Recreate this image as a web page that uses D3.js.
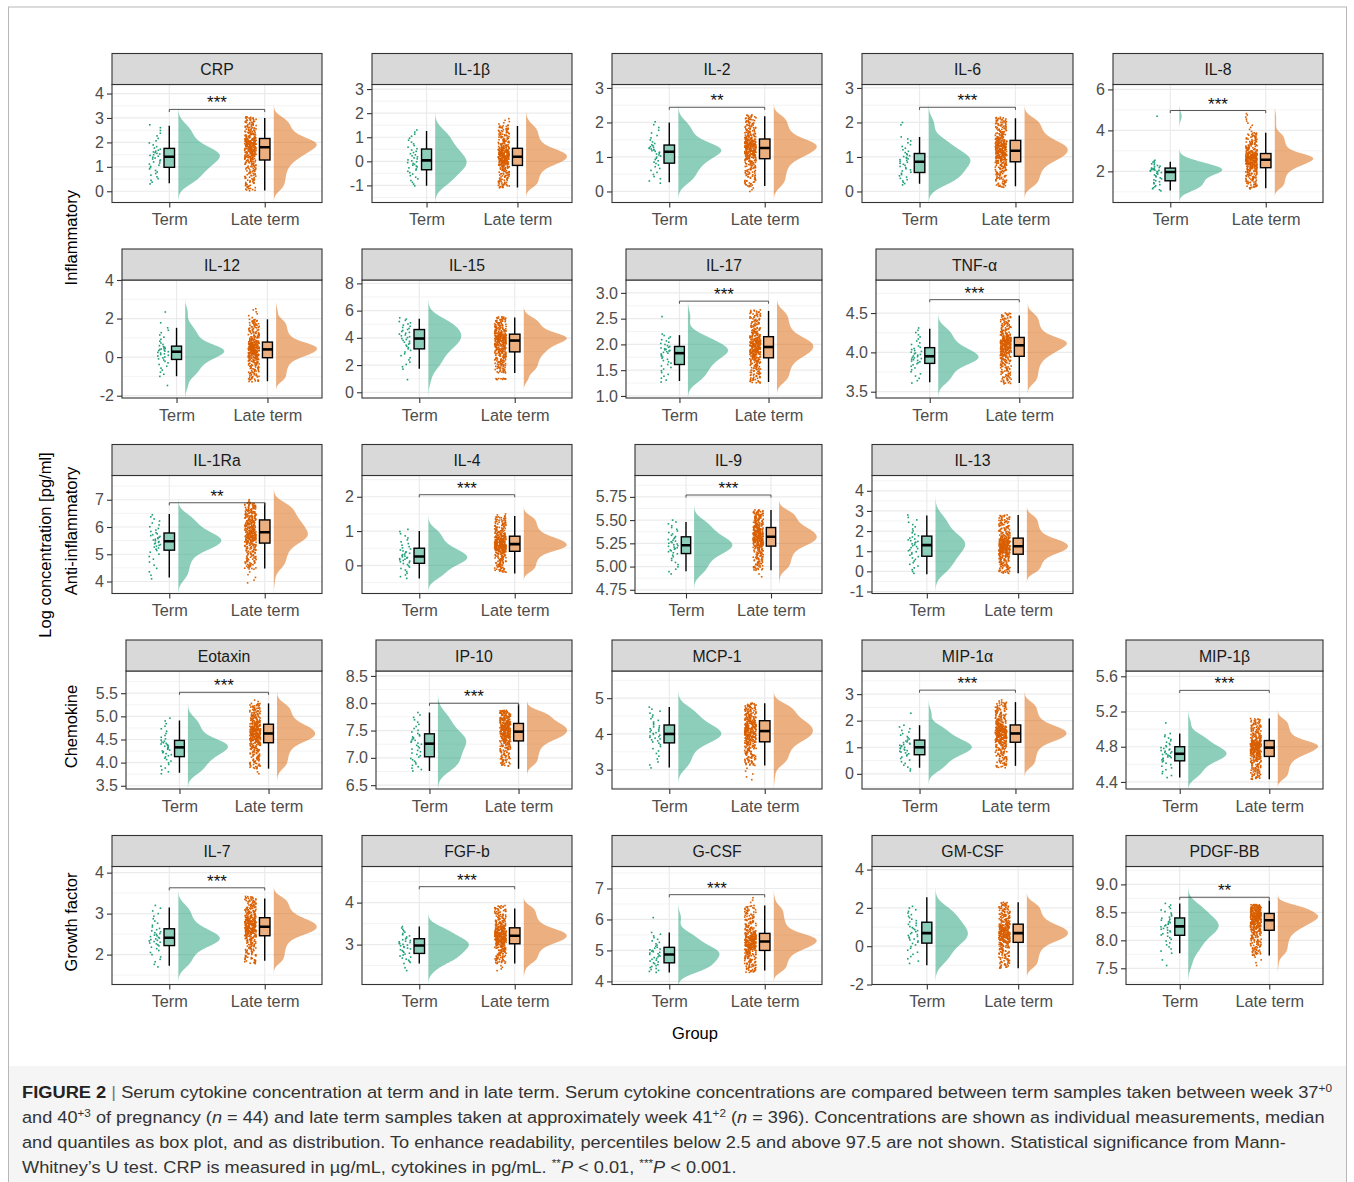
<!DOCTYPE html>
<html>
<head>
<meta charset="utf-8">
<title>Serum cytokine concentration at term and in late term</title>
<script src="https://cdn.jsdelivr.net/npm/d3@7/dist/d3.min.js"></script>
<style>
  html, body { margin: 0; padding: 0; background: #fff; }
  svg text { font-family: "Liberation Sans", Arial, Helvetica, sans-serif; }
</style>
</head>
<body>
<svg id="fig" width="1354" height="1182"></svg>
<script>
// ---------------- data ----------------
const groups = ["Term", "Late term"];
// measurements drawn per group (2.5–97.5 percentile range of n = 44 and n = 396)
const pointCounts = [42, 376];

const panelRows = [
  ["CRP", "IL-1β", "IL-2", "IL-6", "IL-8"],
  ["IL-12", "IL-15", "IL-17", "TNF-α"],
  ["IL-1Ra", "IL-4", "IL-9", "IL-13"],
  ["Eotaxin", "IP-10", "MCP-1", "MIP-1α", "MIP-1β"],
  ["IL-7", "FGF-b", "G-CSF", "GM-CSF", "PDGF-BB"]
];

const familyTitles = [
  { text: "Inflammatory", rows: [0, 1] },
  { text: "Anti-inflammatory", rows: [2] },
  { text: "Chemokine", rows: [3] },
  { text: "Growth factor", rows: [4] }
];

// y-axis tick labels (log concentration)
const yTickLabels = {
  "CRP": ["0", "1", "2", "3", "4"],
  "IL-1β": ["-1", "0", "1", "2", "3"],
  "IL-2": ["0", "1", "2", "3"],
  "IL-6": ["0", "1", "2", "3"],
  "IL-8": ["2", "4", "6"],
  "IL-12": ["-2", "0", "2", "4"],
  "IL-15": ["0", "2", "4", "6", "8"],
  "IL-17": ["1.0", "1.5", "2.0", "2.5", "3.0"],
  "TNF-α": ["3.5", "4.0", "4.5"],
  "IL-1Ra": ["4", "5", "6", "7"],
  "IL-4": ["0", "1", "2"],
  "IL-9": ["4.75", "5.00", "5.25", "5.50", "5.75"],
  "IL-13": ["-1", "0", "1", "2", "3", "4"],
  "Eotaxin": ["3.5", "4.0", "4.5", "5.0", "5.5"],
  "IP-10": ["6.5", "7.0", "7.5", "8.0", "8.5"],
  "MCP-1": ["3", "4", "5"],
  "MIP-1α": ["0", "1", "2", "3"],
  "MIP-1β": ["4.4", "4.8", "5.2", "5.6"],
  "IL-7": ["2", "3", "4"],
  "FGF-b": ["3", "4"],
  "G-CSF": ["4", "5", "6", "7"],
  "GM-CSF": ["-2", "0", "2", "4"],
  "PDGF-BB": ["7.5", "8.0", "8.5", "9.0"]
};

// y-axis limits per panel
const yLimits = {
  "CRP": [-0.46, 4.37], "IL-1β": [-1.71, 3.19], "IL-2": [-0.32, 3.1], "IL-6": [-0.32, 3.1],
  "IL-8": [0.48, 6.24], "IL-12": [-2.12, 4.0], "IL-15": [-0.42, 8.25], "IL-17": [0.96, 3.25],
  "TNF-α": [3.42, 4.92], "IL-1Ra": [3.56, 7.89], "IL-4": [-0.82, 2.62], "IL-9": [4.71, 5.98],
  "IL-13": [-1.1, 4.76], "Eotaxin": [3.43, 5.98], "IP-10": [6.43, 8.59], "MCP-1": [2.46, 5.76],
  "MIP-1α": [-0.57, 3.87], "MIP-1β": [4.32, 5.66], "IL-7": [1.27, 4.15], "FGF-b": [2.05, 4.86],
  "G-CSF": [3.9, 7.71], "GM-CSF": [-2.0, 4.16], "PDGF-BB": [7.21, 9.32]
};

// box plot statistics: [lower whisker, Q1, median, Q3, upper whisker]
const termBox = {
  "CRP": [0.33, 0.98, 1.415, 1.755, 2.68], "IL-1β": [-1.01, -0.35, 0.04, 0.51, 1.26],
  "IL-2": [0.27, 0.82, 1.15, 1.345, 2.0], "IL-6": [0.22, 0.55, 0.86, 1.10, 1.58],
  "IL-8": [1.07, 1.54, 1.97, 2.16, 2.47], "IL-12": [-0.99, -0.12, 0.28, 0.57, 1.52],
  "IL-15": [1.72, 3.19, 3.95, 4.61, 5.4], "IL-17": [1.29, 1.61, 1.83, 1.96, 2.18],
  "TNF-α": [3.62, 3.86, 3.95, 4.06, 4.3], "IL-1Ra": [4.15, 5.15, 5.48, 5.78, 6.48],
  "IL-4": [-0.38, 0.06, 0.26, 0.5, 1.0], "IL-9": [4.95, 5.14, 5.23, 5.32, 5.48],
  "IL-13": [-0.15, 0.75, 1.3, 1.75, 2.77], "Eotaxin": [3.78, 4.13, 4.33, 4.48, 4.91],
  "IP-10": [6.76, 7.02, 7.26, 7.44, 7.83], "MCP-1": [3.06, 3.75, 4.0, 4.25, 4.75],
  "MIP-1α": [0.23, 0.72, 1.0, 1.27, 1.83], "MIP-1β": [4.45, 4.64, 4.72, 4.8, 4.95],
  "IL-7": [1.73, 2.22, 2.41, 2.63, 3.15], "FGF-b": [2.55, 2.79, 2.98, 3.14, 3.43],
  "G-CSF": [4.29, 4.6, 4.87, 5.1, 5.58], "GM-CSF": [-0.99, 0.16, 0.68, 1.25, 2.55],
  "PDGF-BB": [7.77, 8.09, 8.25, 8.4, 8.66]
};
const lateBox = {
  "CRP": [0.03, 1.28, 1.8, 2.16, 3.0], "IL-1β": [-1.09, -0.17, 0.19, 0.54, 1.47],
  "IL-2": [0.16, 0.95, 1.26, 1.52, 2.18], "IL-6": [0.15, 0.86, 1.18, 1.48, 2.12],
  "IL-8": [1.18, 2.18, 2.57, 2.87, 3.88], "IL-12": [-1.25, -0.03, 0.4, 0.78, 1.96],
  "IL-15": [1.42, 2.97, 3.8, 4.27, 5.5], "IL-17": [1.27, 1.74, 1.95, 2.15, 2.65],
  "TNF-α": [3.61, 3.95, 4.09, 4.19, 4.47], "IL-1Ra": [4.48, 5.41, 5.81, 6.26, 6.89],
  "IL-4": [-0.24, 0.41, 0.62, 0.85, 1.44], "IL-9": [4.96, 5.22, 5.32, 5.42, 5.61],
  "IL-13": [-0.1, 0.85, 1.25, 1.65, 2.8], "Eotaxin": [3.87, 4.43, 4.63, 4.83, 5.28],
  "IP-10": [6.8, 7.31, 7.48, 7.63, 7.98], "MCP-1": [3.12, 3.78, 4.08, 4.37, 4.86],
  "MIP-1α": [0.3, 1.19, 1.52, 1.84, 2.7], "MIP-1β": [4.43, 4.69, 4.79, 4.87, 5.12],
  "IL-7": [1.85, 2.46, 2.68, 2.9, 3.37], "FGF-b": [2.55, 3.02, 3.21, 3.4, 3.86],
  "G-CSF": [4.35, 5.0, 5.29, 5.55, 6.45], "GM-CSF": [-1.15, 0.2, 0.68, 1.15, 2.29],
  "PDGF-BB": [7.73, 8.18, 8.36, 8.48, 8.71]
};

// extent of the main cloud of individual measurements: [lowest, highest]
const termRange = {
  "CRP": [0.3, 2.72], "IL-1β": [-1.02, 1.3], "IL-2": [0.24, 2.02], "IL-6": [0.19, 1.58],
  "IL-8": [1.05, 2.54], "IL-12": [-1.0, 1.52], "IL-15": [1.7, 5.47], "IL-17": [1.27, 2.2],
  "TNF-α": [3.61, 4.31], "IL-1Ra": [4.1, 6.45], "IL-4": [-0.38, 1.05], "IL-9": [4.92, 5.5],
  "IL-13": [-0.1, 2.8], "Eotaxin": [3.76, 4.96], "IP-10": [6.76, 7.83], "MCP-1": [3.05, 4.75],
  "MIP-1α": [0.11, 1.83], "MIP-1β": [4.45, 4.95], "IL-7": [1.7, 3.2], "FGF-b": [2.55, 3.43],
  "G-CSF": [4.29, 5.58], "GM-CSF": [-0.9, 2.08], "PDGF-BB": [7.77, 8.66]
};
const lateRange = {
  "CRP": [0.02, 3.05], "IL-1β": [-1.1, 1.5], "IL-2": [0.14, 2.22], "IL-6": [0.12, 2.15],
  "IL-8": [1.15, 3.88], "IL-12": [-1.28, 1.96], "IL-15": [1.42, 5.55], "IL-17": [1.25, 2.67],
  "TNF-α": [3.6, 4.5], "IL-1Ra": [4.45, 6.9], "IL-4": [-0.2, 1.44], "IL-9": [4.96, 5.61],
  "IL-13": [-0.1, 2.8], "Eotaxin": [3.87, 5.28], "IP-10": [6.85, 7.87], "MCP-1": [3.12, 4.86],
  "MIP-1α": [0.23, 2.7], "MIP-1β": [4.43, 5.12], "IL-7": [1.78, 3.42], "FGF-b": [2.55, 3.93],
  "G-CSF": [4.29, 6.45], "GM-CSF": [-1.15, 2.29], "PDGF-BB": [7.73, 8.64]
};

// measurements lying apart from the main cloud
const termOutliers = {
  "IL-6": [1.93, 2.0], "IL-8": [4.69], "IL-12": [1.78, 2.34, -1.47], "IL-15": [0.93],
  "IL-17": [2.54], "MIP-1α": [2.28], "MIP-1β": [5.07], "FGF-b": [2.38, 2.45],
  "G-CSF": [6.06], "PDGF-BB": [7.55, 7.65]
};
const lateOutliers = {
  "IL-1β": [1.55, 1.6, 1.65, 1.7, 1.77], "IL-2": [0.0, 0.05, 0.1],
  "IL-8": [3.95, 4.05, 4.15, 4.25, 4.35, 4.45, 4.55, 4.65, 4.75, 4.82],
  "IL-12": [2.05, 2.15, 2.25, 2.35, 2.45, 2.51],
  "IL-15": [0.93, 0.95, 0.96, 0.97, 0.98, 0.99, 1.0, 1.0, 1.01, 1.02],
  "IL-1Ra": [3.95, 4.05, 4.15, 4.25, 4.35, 6.95, 7.0], "IL-4": [1.47, 1.5],
  "IL-9": [4.89, 4.92], "Eotaxin": [3.76, 3.8, 5.32, 5.35],
  "MCP-1": [2.72, 2.8, 2.88, 2.96, 3.04], "MIP-1α": [2.74, 2.78],
  "FGF-b": [2.38, 2.42, 2.46, 2.5], "G-CSF": [6.55, 6.62, 6.7],
  "PDGF-BB": [7.55, 7.6, 7.65, 7.7]
};

// Mann–Whitney significance: [label, bracket height]
const significance = {
  "CRP": ["***", 3.35], "IL-2": ["**", 2.44], "IL-6": ["***", 2.44], "IL-8": ["***", 4.97],
  "IL-17": ["***", 2.84], "TNF-α": ["***", 4.67], "IL-1Ra": ["**", 6.89], "IL-4": ["***", 2.06],
  "IL-9": ["***", 5.77], "Eotaxin": ["***", 5.52], "IP-10": ["***", 8.0], "MIP-1α": ["***", 3.15],
  "MIP-1β": ["***", 5.44], "IL-7": ["***", 3.63], "FGF-b": ["***", 4.38], "G-CSF": ["***", 6.8],
  "PDGF-BB": ["**", 8.77]
};

// ---------------- layout & style ----------------
const layout = {
  stripTop: [53.5, 249, 444.5, 640, 835.5],
  stripH: 31,
  panelH: 118,
  right: [322, 572, 822, 1073, 1323],
  left: [
    [112, 372, 612, 862, 1113],
    [122, 362, 626, 876],
    [112, 362, 635, 872],
    [126, 376, 612, 862, 1126],
    [112, 362, 612, 872, 1126]
  ]
};
const fillColors = ["#1b9e77", "#d95f02"];
const xDomain = [0.4, 2.6];
const boxHalf = 0.055, violinGap = 0.095, violinMax = 0.45, dotShift = -0.15, dotSpread = 0.06;

const svg = d3.select("#fig");

// figure frame and caption band
svg.append("rect").attr("x", 0).attr("y", 0).attr("width", 1354).attr("height", 1182).attr("fill", "#fff");
svg.append("rect").attr("x", 8.5).attr("y", 1066).attr("width", 1338).attr("height", 130).attr("fill", "#f5f5f5");
svg.append("rect").attr("x", 8.5).attr("y", 7).attr("width", 1338).attr("height", 1200)
  .attr("fill", "none").attr("stroke", "#b8b8b8").attr("stroke-width", 1);

// monotone cubic (Fritsch–Carlson) through the quantile knots
function monotoneQuantile(ps, vs) {
  const n = ps.length, d = [], m = [];
  for (let i = 0; i < n - 1; i++) d.push((vs[i + 1] - vs[i]) / (ps[i + 1] - ps[i]));
  for (let i = 1; i < n - 1; i++) m[i] = d[i - 1] * d[i] <= 0 ? 0 : 2 / (1 / d[i - 1] + 1 / d[i]);
  m[0] = Math.max(d[0], (3 * d[0] - m[1]) / 2);
  m[n - 1] = Math.max(d[n - 2], (3 * d[n - 2] - m[n - 2]) / 2);
  return p => {
    let i = Math.min(n - 2, Math.max(0, d3.bisectRight(ps, p) - 1));
    const h = ps[i + 1] - ps[i], t = (p - ps[i]) / h;
    const t2 = t * t, t3 = t2 * t;
    return (2 * t3 - 3 * t2 + 1) * vs[i] + (t3 - 2 * t2 + t) * h * m[i]
      + (-2 * t3 + 3 * t2) * vs[i + 1] + (t3 - t2) * h * m[i + 1];
  };
}

// individual measurements spread along the quantile curve of each group
function measurements(range, box, out, n) {
  const q = monotoneQuantile([0, 0.25, 0.5, 0.75, 1], [range[0], box[1], box[2], box[3], range[1]]);
  const m = n - out.length;
  return d3.range(m).map(k => q(k / (m - 1))).concat(out);
}

// horizontal jitter offset in [-1, 1] from an integer hash
function jitter(k, salt) {
  let h = Math.imul(k + 1, 0x9e3779b1) ^ Math.imul(salt + 7, 0x85ebca6b);
  h ^= h >>> 15; h = Math.imul(h, 0x2c1b3c6d);
  h ^= h >>> 12; h = Math.imul(h, 0x297a2d39);
  h ^= h >>> 15;
  return ((h >>> 0) / 4294967296) * 2 - 1;
}

// gaussian kernel density with Silverman's bandwidth, extended 3 bandwidths past the data
function density(vals) {
  const n = vals.length;
  const sorted = vals.slice().sort(d3.ascending);
  const sd = d3.deviation(sorted);
  const iqr = d3.quantileSorted(sorted, 0.75) - d3.quantileSorted(sorted, 0.25);
  const bw = 0.9 * Math.min(sd, iqr / 1.34) * Math.pow(n, -0.2);
  const a = sorted[0] - 3 * bw, b = sorted[n - 1] + 3 * bw;
  const c = 1 / (n * bw * Math.sqrt(2 * Math.PI));
  return d3.range(0, 257).map(i => {
    const v = a + (b - a) * i / 256;
    return [v, c * d3.sum(sorted, s => Math.exp(-0.5 * ((v - s) / bw) ** 2))];
  });
}

let panelIndex = 0;
panelRows.forEach((row, r) => {
  row.forEach((marker, c) => {
    panelIndex++;
    const x0 = layout.left[r][c], x1 = layout.right[c];
    const sTop = layout.stripTop[r], pTop = sTop + layout.stripH, pBot = pTop + layout.panelH;
    const x = d3.scaleLinear(xDomain, [x0, x1]);
    const y = d3.scaleLinear(yLimits[marker], [pBot, pTop]);
    const g = svg.append("g").attr("class", "panel");
    const clipId = "clip-" + r + "-" + c;
    g.append("clipPath").attr("id", clipId).append("rect")
      .attr("x", x0).attr("y", pTop).attr("width", x1 - x0).attr("height", pBot - pTop);

    // grid
    const labels = yTickLabels[marker];
    const ticks = labels.map(Number);
    const step = ticks[1] - ticks[0];
    const dom = yLimits[marker];
    const minors = d3.range(-1, ticks.length).map(i => ticks[0] + (i + 0.5) * step)
      .filter(v => v > dom[0] && v < dom[1]);
    const grid = g.append("g").attr("clip-path", `url(#${clipId})`);
    grid.selectAll("line.minor").data(minors).join("line").attr("class", "minor")
      .attr("x1", x0).attr("x2", x1).attr("y1", d => y(d)).attr("y2", d => y(d))
      .attr("stroke", "#ebebeb").attr("stroke-width", 0.6);
    grid.selectAll("line.major").data(ticks).join("line").attr("class", "major")
      .attr("x1", x0).attr("x2", x1).attr("y1", d => y(d)).attr("y2", d => y(d))
      .attr("stroke", "#ebebeb").attr("stroke-width", 1.2);
    grid.selectAll("line.vmajor").data([1, 2]).join("line").attr("class", "vmajor")
      .attr("x1", d => x(d)).attr("x2", d => x(d)).attr("y1", pTop).attr("y2", pBot)
      .attr("stroke", "#ebebeb").attr("stroke-width", 1.2);

    // measurements per group
    const sets = [
      measurements(termRange[marker], termBox[marker], termOutliers[marker] || [], pointCounts[0]),
      measurements(lateRange[marker], lateBox[marker], lateOutliers[marker] || [], pointCounts[1])
    ];
    const dens = sets.map(density);
    const maxD = d3.max(dens, d => d3.max(d, p => p[1]));

    const marks = g.append("g").attr("clip-path", `url(#${clipId})`);
    // half violins
    dens.forEach((d, i) => {
      const base = i + 1 + violinGap;
      const area = d3.area()
        .y(p => y(p[0]))
        .x0(() => x(base))
        .x1(p => x(base + violinMax * p[1] / maxD))
        .curve(d3.curveBasis);
      marks.append("path").attr("d", area(d))
        .attr("fill", fillColors[i]).attr("fill-opacity", 0.5).attr("stroke", "none");
    });
    // jittered measurements
    sets.forEach((vals, i) => {
      marks.append("g").selectAll("rect").data(vals).join("rect")
        .attr("x", (v, k) => x(i + 1 + dotShift + dotSpread * jitter(k, panelIndex * 2 + i)) - 0.8)
        .attr("y", v => y(v) - 0.8)
        .attr("width", 1.6).attr("height", 1.6)
        .attr("fill", fillColors[i]);
    });
    // box plots
    [termBox[marker], lateBox[marker]].forEach((b, i) => {
      const cx = i + 1;
      const bg = marks.append("g");
      bg.append("line").attr("x1", x(cx)).attr("x2", x(cx)).attr("y1", y(b[4])).attr("y2", y(b[3]))
        .attr("stroke", "#000").attr("stroke-width", 1.4);
      bg.append("line").attr("x1", x(cx)).attr("x2", x(cx)).attr("y1", y(b[1])).attr("y2", y(b[0]))
        .attr("stroke", "#000").attr("stroke-width", 1.4);
      bg.append("rect").attr("x", x(cx - boxHalf)).attr("width", x(cx + boxHalf) - x(cx - boxHalf))
        .attr("y", y(b[3])).attr("height", y(b[1]) - y(b[3]))
        .attr("fill", "#fff").attr("stroke", "none");
      bg.append("rect").attr("x", x(cx - boxHalf)).attr("width", x(cx + boxHalf) - x(cx - boxHalf))
        .attr("y", y(b[3])).attr("height", y(b[1]) - y(b[3]))
        .attr("fill", fillColors[i]).attr("fill-opacity", 0.5)
        .attr("stroke", "#000").attr("stroke-width", 1.4);
      bg.append("line").attr("x1", x(cx - boxHalf)).attr("x2", x(cx + boxHalf))
        .attr("y1", y(b[2])).attr("y2", y(b[2]))
        .attr("stroke", "#000").attr("stroke-width", 2.6);
    });

    // significance bracket
    const sig = significance[marker];
    if (sig) {
      const by = y(sig[1]);
      g.append("path")
        .attr("d", `M${x(1)},${by + 2.6}V${by}H${x(2)}V${by + 2.6}`)
        .attr("fill", "none").attr("stroke", "#444").attr("stroke-width", 0.9);
      g.append("text").attr("x", (x(1) + x(2)) / 2).attr("y", by - 1)
        .attr("text-anchor", "middle").attr("font-size", 17).attr("fill", "#111")
        .text(sig[0]);
    }

    // panel border
    g.append("rect").attr("x", x0).attr("y", pTop).attr("width", x1 - x0).attr("height", pBot - pTop)
      .attr("fill", "none").attr("stroke", "#333").attr("stroke-width", 1.1);
    // strip
    g.append("rect").attr("x", x0).attr("y", sTop).attr("width", x1 - x0).attr("height", layout.stripH)
      .attr("fill", "#d9d9d9").attr("stroke", "#333").attr("stroke-width", 1.1);
    g.append("text").attr("x", (x0 + x1) / 2).attr("y", sTop + 21.5)
      .attr("text-anchor", "middle").attr("font-size", 15.8).attr("fill", "#1a1a1a").text(marker);

    // axes
    const yAxis = d3.axisLeft(y).tickValues(ticks).tickFormat((d, i) => labels[i]).tickSize(5).tickPadding(3);
    g.append("g").attr("transform", `translate(${x0},0)`).call(yAxis)
      .call(a => a.select(".domain").remove())
      .call(a => a.selectAll("line").attr("stroke", "#333").attr("stroke-width", 1.1))
      .call(a => a.selectAll("text").attr("fill", "#4d4d4d").attr("font-size", 16));
    const xAxis = d3.axisBottom(x).tickValues([1, 2]).tickFormat((d, i) => groups[i]).tickSize(5).tickPadding(6);
    g.append("g").attr("transform", `translate(0,${pBot})`).call(xAxis)
      .call(a => a.select(".domain").remove())
      .call(a => a.selectAll("line").attr("stroke", "#333").attr("stroke-width", 1.1))
      .call(a => a.selectAll("text").attr("fill", "#4d4d4d").attr("font-size", 16.3));
  });
});

// family titles beside each block of rows
familyTitles.forEach(f => {
  const top = layout.stripTop[f.rows[0]] + layout.stripH;
  const bot = layout.stripTop[f.rows[f.rows.length - 1]] + layout.stripH + layout.panelH;
  svg.append("text")
    .attr("transform", `translate(71,${(top + bot) / 2 - 3.5}) rotate(-90)`)
    .attr("text-anchor", "middle").attr("dy", "0.35em")
    .attr("font-size", 16.5).attr("fill", "#000").text(f.text);
});
svg.append("text")
  .attr("transform", "translate(45,545) rotate(-90)")
  .attr("text-anchor", "middle").attr("dy", "0.35em")
  .attr("font-size", 16.5).attr("fill", "#000").text("Log concentration [pg/ml]");
svg.append("text").attr("x", 695).attr("y", 1039).attr("text-anchor", "middle")
  .attr("font-size", 16.5).attr("fill", "#000").text("Group");

// caption
const captionLines = [
  [{ t: "FIGURE 2", b: 1 }, { t: " " }, { t: "|", bar: 1 }, { t: " Serum cytokine concentration at term and in late term. Serum cytokine concentrations are compared between term samples taken between week 37" }, { t: "+0", sup: 1 }],
  [{ t: "and 40" }, { t: "+3", sup: 1 }, { t: " of pregnancy (" }, { t: "n", i: 1 }, { t: " = 44) and late term samples taken at approximately week 41" }, { t: "+2", sup: 1 }, { t: " (" }, { t: "n", i: 1 }, { t: " = 396). Concentrations are shown as individual measurements, median" }],
  [{ t: "and quantiles as box plot, and as distribution. To enhance readability, percentiles below 2.5 and above 97.5 are not shown. Statistical significance from Mann-" }],
  [{ t: "Whitney’s U test. CRP is measured in µg/mL, cytokines in pg/mL. " }, { t: "**", sup: 1 }, { t: "P", i: 1 }, { t: " < 0.01, " }, { t: "***", sup: 1 }, { t: "P", i: 1 }, { t: " < 0.001." }]
];
const captionWidths = [1311, 1303, 1265, null];
const captionScale = [];
captionLines.forEach((parts, li) => {
  const cg = svg.append("g").attr("transform", `translate(22,${1098 + li * 25})`);
  const txt = cg.append("text").attr("x", 0).attr("y", 0).attr("font-size", 17).attr("fill", "#333");
  let raised = false;
  parts.forEach(p => {
    const ts = txt.append("tspan").text(p.t);
    if (p.b) ts.attr("font-weight", "bold").attr("fill", "#222");
    if (p.i) ts.attr("font-style", "italic");
    if (p.bar) ts.attr("fill", "#777").attr("font-weight", 300);
    if (p.sup) { ts.attr("font-size", 11).attr("dy", -6); raised = true; }
    else if (raised) { ts.attr("dy", 6); raised = false; }
  });
  const len = txt.node().getComputedTextLength();
  const sx = captionWidths[li] ? captionWidths[li] / len : d3.mean(captionScale);
  captionScale.push(sx);
  cg.attr("transform", `translate(22,${1098 + li * 25}) scale(${sx},1)`);
});
</script>
</body>
</html>
